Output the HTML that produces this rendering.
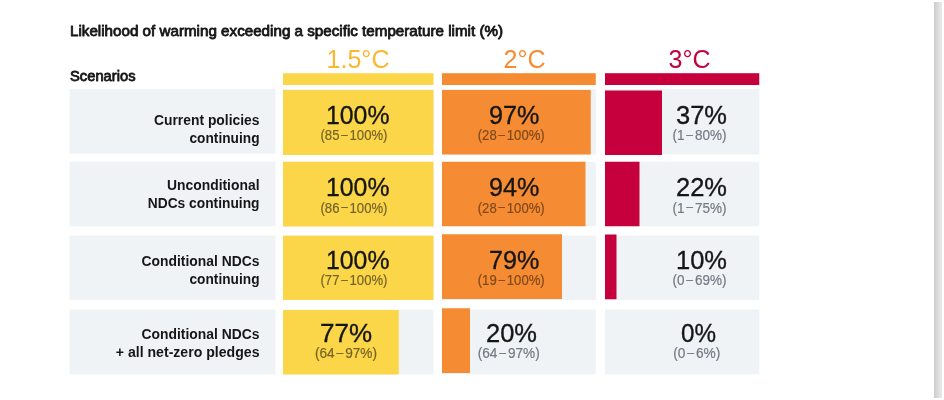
<!DOCTYPE html>
<html><head><meta charset="utf-8"><title>Likelihood of warming</title>
<style>
html,body{margin:0;padding:0;background:#fff;}
body{width:944px;height:400px;overflow:hidden;font-family:"Liberation Sans",sans-serif;}
svg{display:block;filter:blur(0.45px);font-family:"Liberation Sans",sans-serif;}
</style></head><body>
<svg width="944" height="400" viewBox="0 0 944 400">
<defs><linearGradient id="sg" x1="0" x2="1" y1="0" y2="0"><stop offset="0" stop-color="#cdcdcd"/><stop offset="1" stop-color="#ebebeb"/></linearGradient></defs>
<rect x="934" y="2" width="8" height="396" fill="url(#sg)"/>
<rect x="69.5" y="89" width="206.0" height="64.75" fill="#EFF3F6"/>
<rect x="69.5" y="161.75" width="206.0" height="64.5" fill="#EFF3F6"/>
<rect x="69.5" y="235.5" width="206.0" height="64.5" fill="#EFF3F6"/>
<rect x="69.5" y="309.5" width="206.0" height="64.75" fill="#EFF3F6"/>
<rect x="283" y="73.2" width="150.5" height="11.8" fill="#FBD648"/>
<rect x="442" y="73.2" width="153.75" height="11.8" fill="#F58B32"/>
<rect x="605" y="73.2" width="154.25" height="11.8" fill="#C5003D"/>
<rect x="283" y="89" width="150.5" height="65.5" fill="#EFF3F6"/>
<rect x="283" y="161.75" width="150.5" height="64.5" fill="#EFF3F6"/>
<rect x="283" y="235.5" width="150.5" height="64.5" fill="#EFF3F6"/>
<rect x="283" y="309.5" width="150.5" height="64.75" fill="#EFF3F6"/>
<rect x="283" y="90" width="150.5" height="65" fill="#FBD648"/>
<rect x="283" y="161.75" width="150.5" height="64.75" fill="#FBD648"/>
<rect x="283" y="235.75" width="150.5" height="64.25" fill="#FBD648"/>
<rect x="283" y="310" width="115.75" height="64.5" fill="#FBD648"/>
<rect x="442" y="89" width="153.75" height="65.5" fill="#EFF3F6"/>
<rect x="442" y="161.75" width="153.75" height="64.5" fill="#EFF3F6"/>
<rect x="442" y="235.5" width="153.75" height="64.5" fill="#EFF3F6"/>
<rect x="442" y="309.5" width="153.75" height="64.75" fill="#EFF3F6"/>
<rect x="442" y="90" width="148.75" height="64.5" fill="#F58B32"/>
<rect x="442" y="161.75" width="143.5" height="64.5" fill="#F58B32"/>
<rect x="442" y="234.25" width="120" height="64.75" fill="#F58B32"/>
<rect x="442" y="308.25" width="28" height="64.75" fill="#F58B32"/>
<rect x="605" y="89" width="154.25" height="65.5" fill="#EFF3F6"/>
<rect x="605" y="161.75" width="154.25" height="64.5" fill="#EFF3F6"/>
<rect x="605" y="235.5" width="154.25" height="64.5" fill="#EFF3F6"/>
<rect x="605" y="309.5" width="154.25" height="64.75" fill="#EFF3F6"/>
<rect x="605" y="90.5" width="57" height="64.5" fill="#C5003D"/>
<rect x="605" y="161.75" width="34.5" height="64.5" fill="#C5003D"/>
<rect x="605" y="234.5" width="11.5" height="64.75" fill="#C5003D"/>
<text x="70" y="35.75" font-size="14.5" fill="#161616" font-weight="normal" text-anchor="start" textLength="433" lengthAdjust="spacingAndGlyphs" stroke="#161616" stroke-width="0.8" stroke-linejoin="round">Likelihood of warming exceeding a specific temperature limit (%)</text>
<text x="70" y="81.25" font-size="14.5" fill="#161616" font-weight="normal" text-anchor="start" textLength="65.5" lengthAdjust="spacingAndGlyphs" stroke="#161616" stroke-width="0.8" stroke-linejoin="round">Scenarios</text>
<text x="326.5" y="68" font-size="25" fill="#FBB72D" font-weight="normal" text-anchor="start" textLength="63" lengthAdjust="spacingAndGlyphs">1.5°C</text>
<text x="503.5" y="68" font-size="25" fill="#F58B32" font-weight="normal" text-anchor="start" textLength="42" lengthAdjust="spacingAndGlyphs">2°C</text>
<text x="668.5" y="68" font-size="25" fill="#C5003D" font-weight="normal" text-anchor="start" textLength="42" lengthAdjust="spacingAndGlyphs">3°C</text>
<text x="259.5" y="125" font-size="14.5" fill="#161616" font-weight="bold" text-anchor="end" textLength="105.5" lengthAdjust="spacingAndGlyphs">Current policies</text>
<text x="259.5" y="143" font-size="14.5" fill="#161616" font-weight="bold" text-anchor="end" textLength="70" lengthAdjust="spacingAndGlyphs">continuing</text>
<text x="259.5" y="190" font-size="14.5" fill="#161616" font-weight="bold" text-anchor="end" textLength="92.5" lengthAdjust="spacingAndGlyphs">Unconditional</text>
<text x="259.5" y="208" font-size="14.5" fill="#161616" font-weight="bold" text-anchor="end" textLength="111.75" lengthAdjust="spacingAndGlyphs">NDCs continuing</text>
<text x="259.5" y="265.5" font-size="14.5" fill="#161616" font-weight="bold" text-anchor="end" textLength="118" lengthAdjust="spacingAndGlyphs">Conditional NDCs</text>
<text x="259.5" y="283.75" font-size="14.5" fill="#161616" font-weight="bold" text-anchor="end" textLength="70" lengthAdjust="spacingAndGlyphs">continuing</text>
<text x="259.5" y="339.25" font-size="14.5" fill="#161616" font-weight="bold" text-anchor="end" textLength="118" lengthAdjust="spacingAndGlyphs">Conditional NDCs</text>
<text x="259.5" y="357.25" font-size="14.5" fill="#161616" font-weight="bold" text-anchor="end" textLength="143.75" lengthAdjust="spacingAndGlyphs">+ all net-zero pledges</text>
<text x="326" y="123.6" font-size="25.6" fill="#161616" font-weight="normal" text-anchor="start" textLength="63.5" lengthAdjust="spacingAndGlyphs" stroke="#161616" stroke-width="0.35">100%</text>
<text x="320.5" y="140" font-size="14" fill="#75642a" font-weight="normal" text-anchor="start" textLength="67" lengthAdjust="spacingAndGlyphs" stroke="#75642a" stroke-width="0.2">(85<tspan font-size="12.5" dx="1.9" dy="-1.5">–</tspan><tspan dx="1.9" dy="1.5">100%)</tspan></text>
<text x="326" y="196.1" font-size="25.6" fill="#161616" font-weight="normal" text-anchor="start" textLength="63.5" lengthAdjust="spacingAndGlyphs" stroke="#161616" stroke-width="0.35">100%</text>
<text x="320.5" y="212.5" font-size="14" fill="#75642a" font-weight="normal" text-anchor="start" textLength="67" lengthAdjust="spacingAndGlyphs" stroke="#75642a" stroke-width="0.2">(86<tspan font-size="12.5" dx="1.9" dy="-1.5">–</tspan><tspan dx="1.9" dy="1.5">100%)</tspan></text>
<text x="326" y="268.85" font-size="25.6" fill="#161616" font-weight="normal" text-anchor="start" textLength="63.5" lengthAdjust="spacingAndGlyphs" stroke="#161616" stroke-width="0.35">100%</text>
<text x="320.5" y="285.3" font-size="14" fill="#75642a" font-weight="normal" text-anchor="start" textLength="67" lengthAdjust="spacingAndGlyphs" stroke="#75642a" stroke-width="0.2">(77<tspan font-size="12.5" dx="1.9" dy="-1.5">–</tspan><tspan dx="1.9" dy="1.5">100%)</tspan></text>
<text x="320" y="341.75" font-size="25.6" fill="#161616" font-weight="normal" text-anchor="start" textLength="52" lengthAdjust="spacingAndGlyphs" stroke="#161616" stroke-width="0.35">77%</text>
<text x="315" y="358" font-size="14" fill="#75642a" font-weight="normal" text-anchor="start" textLength="62" lengthAdjust="spacingAndGlyphs" stroke="#75642a" stroke-width="0.2">(64<tspan font-size="12.5" dx="1.9" dy="-1.5">–</tspan><tspan dx="1.9" dy="1.5">97%)</tspan></text>
<text x="489" y="123.6" font-size="25.6" fill="#161616" font-weight="normal" text-anchor="start" textLength="50.3" lengthAdjust="spacingAndGlyphs" stroke="#161616" stroke-width="0.35">97%</text>
<text x="477.75" y="140" font-size="14" fill="#80491c" font-weight="normal" text-anchor="start" textLength="67" lengthAdjust="spacingAndGlyphs" stroke="#80491c" stroke-width="0.2">(28<tspan font-size="12.5" dx="1.9" dy="-1.5">–</tspan><tspan dx="1.9" dy="1.5">100%)</tspan></text>
<text x="489" y="196.1" font-size="25.6" fill="#161616" font-weight="normal" text-anchor="start" textLength="50.3" lengthAdjust="spacingAndGlyphs" stroke="#161616" stroke-width="0.35">94%</text>
<text x="477.75" y="212.5" font-size="14" fill="#80491c" font-weight="normal" text-anchor="start" textLength="67" lengthAdjust="spacingAndGlyphs" stroke="#80491c" stroke-width="0.2">(28<tspan font-size="12.5" dx="1.9" dy="-1.5">–</tspan><tspan dx="1.9" dy="1.5">100%)</tspan></text>
<text x="489" y="268.85" font-size="25.6" fill="#161616" font-weight="normal" text-anchor="start" textLength="50.3" lengthAdjust="spacingAndGlyphs" stroke="#161616" stroke-width="0.35">79%</text>
<text x="477.75" y="285.3" font-size="14" fill="#80491c" font-weight="normal" text-anchor="start" textLength="67" lengthAdjust="spacingAndGlyphs" stroke="#80491c" stroke-width="0.2">(19<tspan font-size="12.5" dx="1.9" dy="-1.5">–</tspan><tspan dx="1.9" dy="1.5">100%)</tspan></text>
<text x="486" y="341.75" font-size="25.6" fill="#161616" font-weight="normal" text-anchor="start" textLength="51" lengthAdjust="spacingAndGlyphs" stroke="#161616" stroke-width="0.35">20%</text>
<text x="477.75" y="358" font-size="14" fill="#747a83" font-weight="normal" text-anchor="start" textLength="62" lengthAdjust="spacingAndGlyphs" stroke="#747a83" stroke-width="0.2">(64<tspan font-size="12.5" dx="1.9" dy="-1.5">–</tspan><tspan dx="1.9" dy="1.5">97%)</tspan></text>
<text x="676" y="123.6" font-size="25.6" fill="#161616" font-weight="normal" text-anchor="start" textLength="51" lengthAdjust="spacingAndGlyphs" stroke="#161616" stroke-width="0.35">37%</text>
<text x="672.5" y="140" font-size="14" fill="#747a83" font-weight="normal" text-anchor="start" textLength="54" lengthAdjust="spacingAndGlyphs" stroke="#747a83" stroke-width="0.2">(1<tspan font-size="12.5" dx="1.9" dy="-1.5">–</tspan><tspan dx="1.9" dy="1.5">80%)</tspan></text>
<text x="676" y="196.1" font-size="25.6" fill="#161616" font-weight="normal" text-anchor="start" textLength="51" lengthAdjust="spacingAndGlyphs" stroke="#161616" stroke-width="0.35">22%</text>
<text x="672.5" y="212.5" font-size="14" fill="#747a83" font-weight="normal" text-anchor="start" textLength="54" lengthAdjust="spacingAndGlyphs" stroke="#747a83" stroke-width="0.2">(1<tspan font-size="12.5" dx="1.9" dy="-1.5">–</tspan><tspan dx="1.9" dy="1.5">75%)</tspan></text>
<text x="676" y="268.85" font-size="25.6" fill="#161616" font-weight="normal" text-anchor="start" textLength="51" lengthAdjust="spacingAndGlyphs" stroke="#161616" stroke-width="0.35">10%</text>
<text x="672.5" y="285.3" font-size="14" fill="#747a83" font-weight="normal" text-anchor="start" textLength="54" lengthAdjust="spacingAndGlyphs" stroke="#747a83" stroke-width="0.2">(0<tspan font-size="12.5" dx="1.9" dy="-1.5">–</tspan><tspan dx="1.9" dy="1.5">69%)</tspan></text>
<text x="681" y="341.75" font-size="25.6" fill="#161616" font-weight="normal" text-anchor="start" textLength="35" lengthAdjust="spacingAndGlyphs" stroke="#161616" stroke-width="0.35">0%</text>
<text x="673.25" y="358" font-size="14" fill="#747a83" font-weight="normal" text-anchor="start" textLength="47" lengthAdjust="spacingAndGlyphs" stroke="#747a83" stroke-width="0.2">(0<tspan font-size="12.5" dx="1.9" dy="-1.5">–</tspan><tspan dx="1.9" dy="1.5">6%)</tspan></text>
</svg>
</body></html>
